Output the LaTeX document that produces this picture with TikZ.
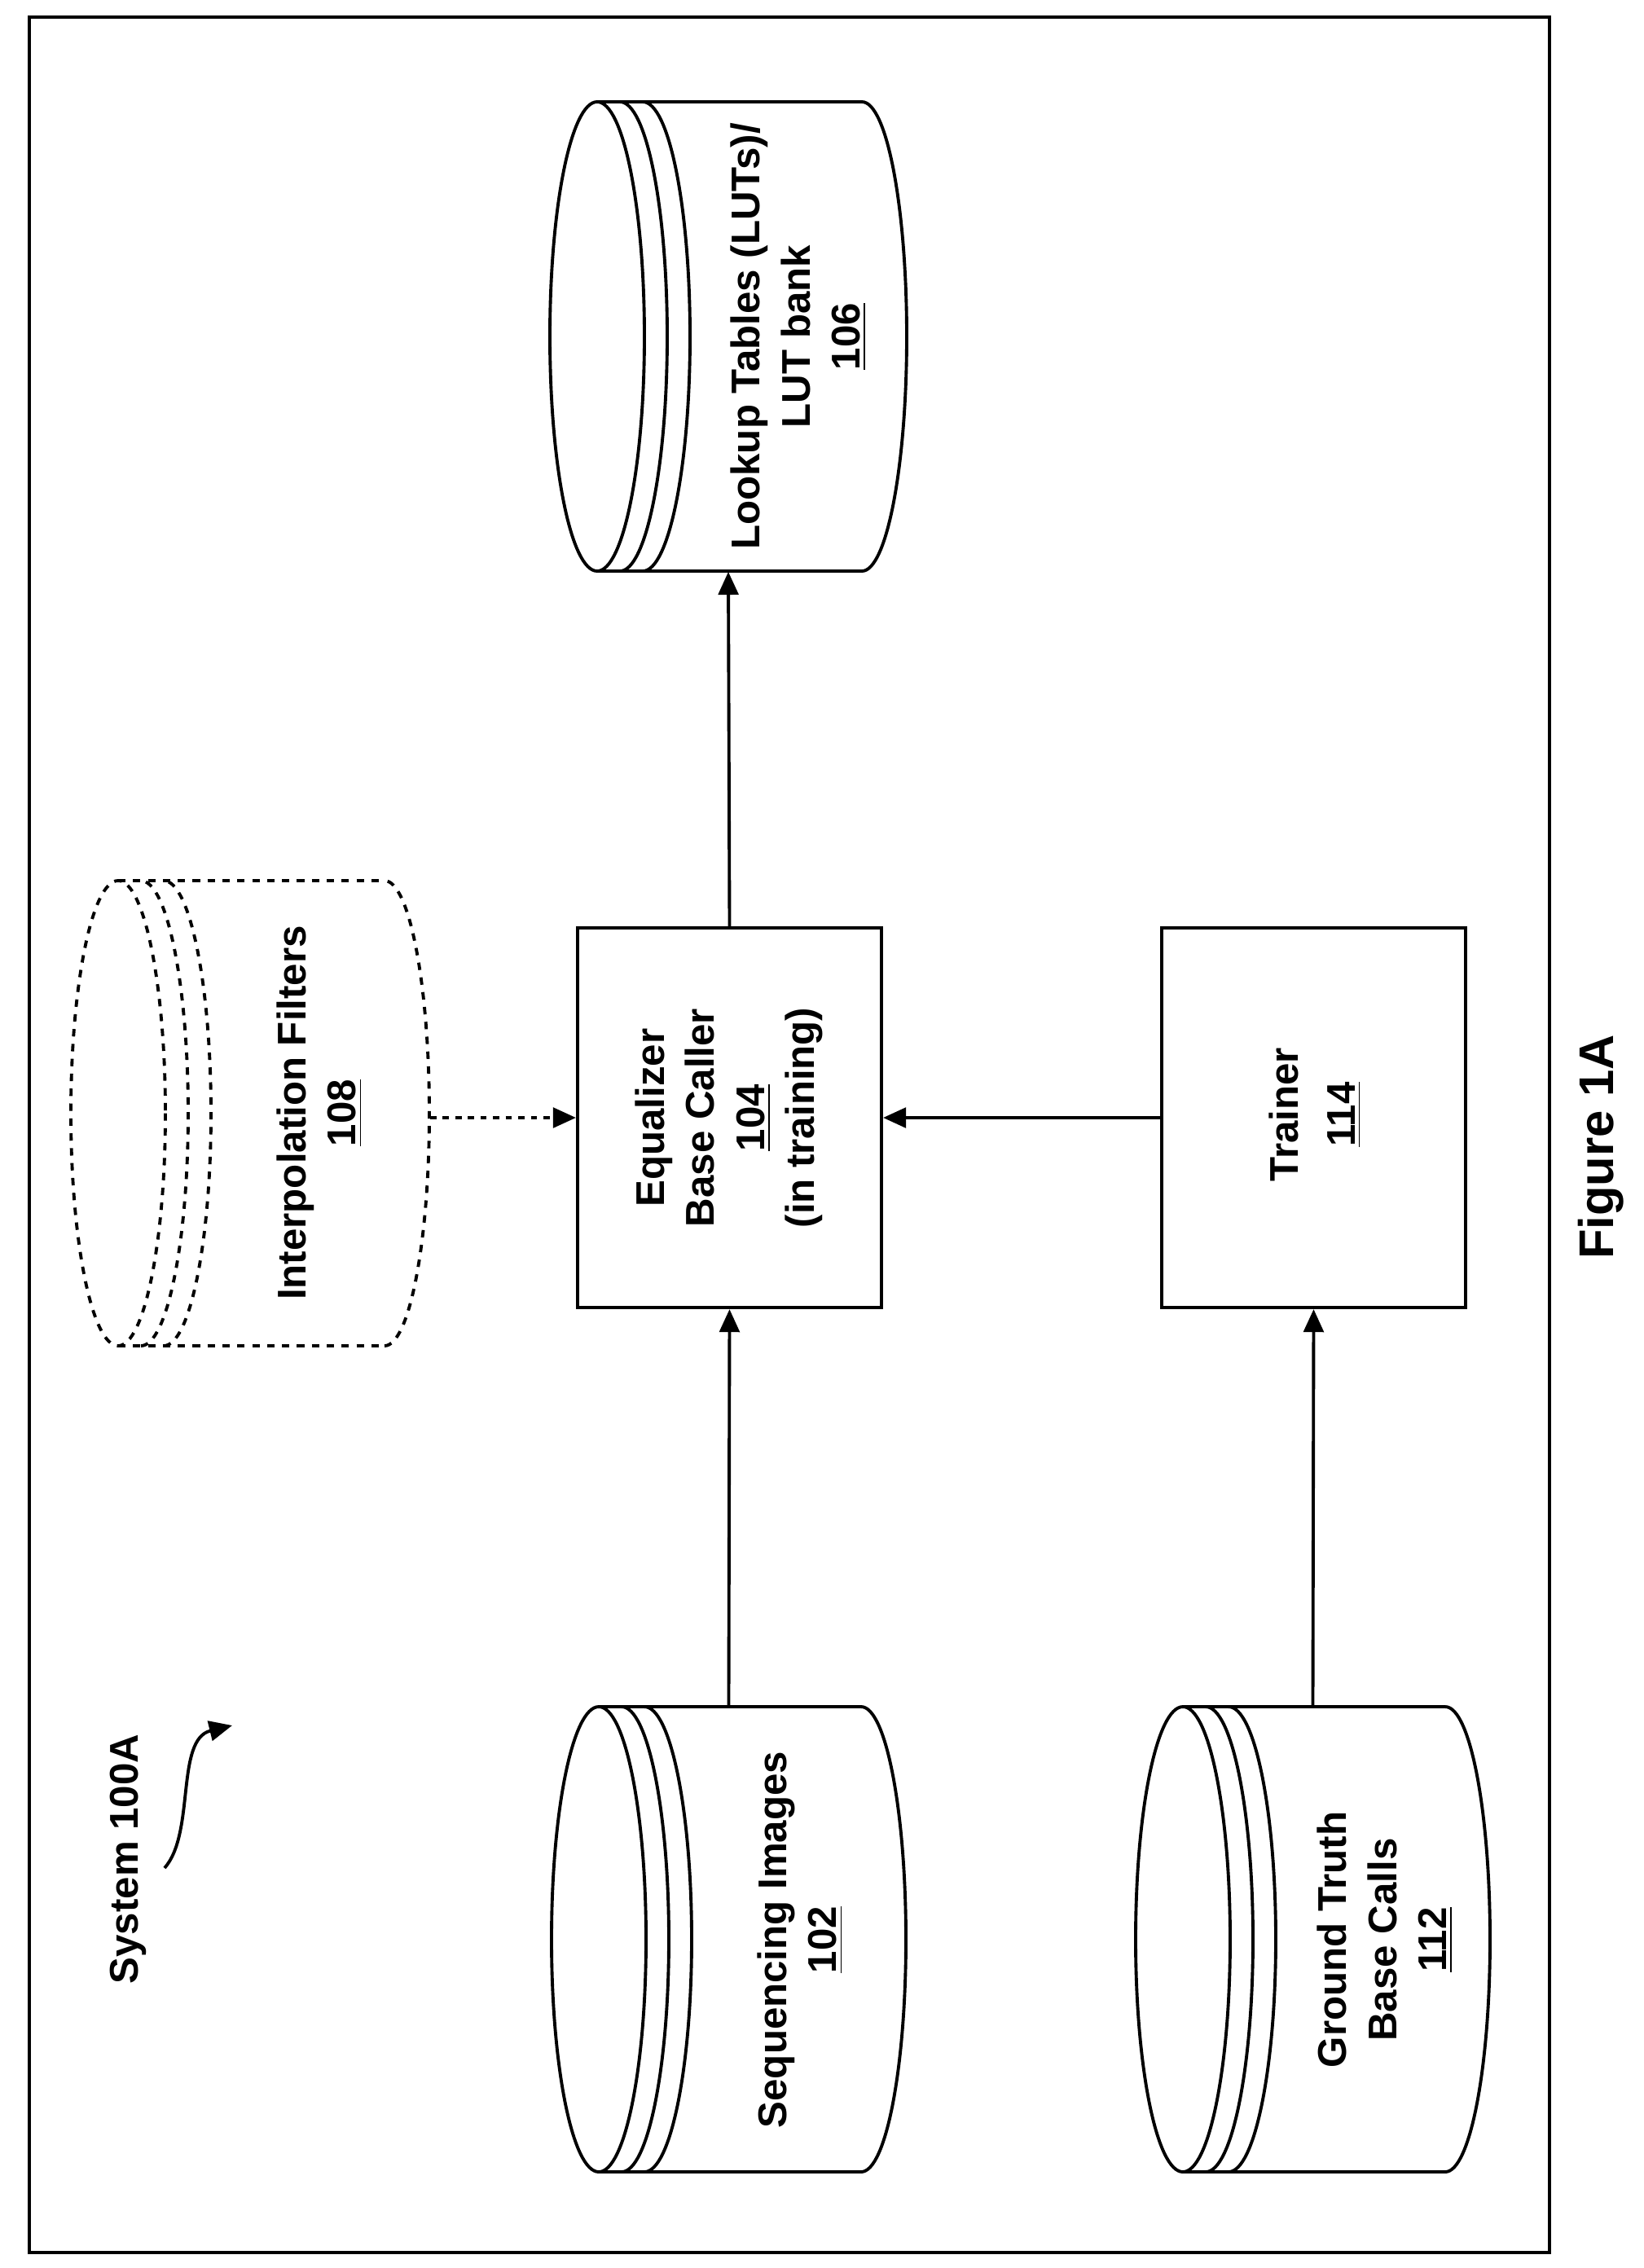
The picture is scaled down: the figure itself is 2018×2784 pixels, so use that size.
\documentclass[tikz,border=0pt]{standalone}
\usepackage{fontspec}
\setmainfont{Liberation Sans}
\usetikzlibrary{arrows.meta}
\tikzset{
  line/.style={line width=1.1pt},
  box/.style={draw, line, minimum width=3.73cm, minimum height=4.66cm, inner sep=0pt},
  disk/.style={minimum width=4.35cm, minimum height=5.71cm, inner sep=0pt},
  lbl/.style={rotate=90, align=center, font=\bfseries\fontsize{14}{17.5}\selectfont},
  arr/.style={line, -{Triangle[length=8pt,width=7pt]}},
  faint/.style={line, dash pattern=on 2.6pt off 2.6pt}
}
% stacked disk lying on its side: left x, right x, top y, bottom y
\newcommand{\stackdisk}[5][]{%
  \pgfmathsetmacro\cyc{(#4+#5)/2}\pgfmathsetmacro\cyr{(#5-#4)/2}
  \draw[line,#1] ({#2+58},\cyc) ellipse[x radius=58, y radius=\cyr];
  \foreach \o in {28,56}
    \draw[line,#1] ({#2+58+\o},#5) arc[start angle=90, end angle=-90, x radius=58, y radius=\cyr];
  \draw[line,#1] ({#2+58},#4) -- ({#3-55},#4);
  \draw[line,#1] ({#2+58},#5) -- ({#3-55},#5);
  \draw[line,#1] ({#3-55},#5) arc[start angle=90, end angle=-90, x radius=55, y radius=\cyr];
}
\begin{document}
\begin{tikzpicture}[x=0.01cm, y=-0.01cm]
  \useasboundingbox (0,0) rectangle (2018,2784);
  % frame
  \draw[line] (36,21) rectangle (1902,2765);

  % stores
  \node[disk] (seq) at (894.5,2380.5) {};
  \stackdisk{677}{1112}{2095}{2666}
  \node[lbl] (seqtxt) at (982,2381) {Sequencing Images\\\underline{102}};

  \node[disk] (gt) at (1611.5,2380.5) {};
  \stackdisk{1394}{1829}{2095}{2666}
  \node[lbl] (gttxt) at (1700,2381) {Ground Truth\\Base Calls\\\underline{112}};

  \node[disk, minimum width=4.38cm, minimum height=5.76cm] (lut) at (894,413) {};
  \stackdisk{675}{1113}{125}{701}
  \node[lbl] (luttxt) at (980,413) {Lookup Tables (LUTs)/\\LUT bank\\\underline{106}};

  \node[disk, minimum width=4.4cm] (interp) at (307,1366.5) {};
  \stackdisk[faint]{87}{527}{1081}{1652}
  \node[lbl] (interptxt) at (392,1366) {Interpolation Filters\\\underline{108}};

  % blocks
  \node[box] (eq) at (895.5,1372) {};
  \node[lbl] (eqtxt) at (895,1372) {Equalizer\\Base Caller\\\underline{104}\\(in training)};
  \node[box] (trainer) at (1612.5,1372) {};
  \node[lbl, font=\bfseries\fontsize{14}{20}\selectfont] (trainertxt) at (1614,1368) {Trainer\\\underline{114}};

  % connectors
  \draw[arr] (seq.north) -- (eq.south);
  \draw[arr] (eq.north) -- (lut.south);
  \draw[arr] (gt.north) -- (trainer.south);
  \draw[arr] (trainer.west) -- (eq.east);
  \draw[arr, dash pattern=on 2.2pt off 2.2pt] (interp.east |- eq.west) -- (eq.west);

  % labels
  \node[lbl] (sys) at (157,2282) {System 100A};
  \coordinate (systip) at (285,2118);
  \draw[line, -{Triangle[length=8pt,width=7pt]}] (202,2293) .. controls (240,2250) and (215,2135) .. (systip);
  \node[lbl, font=\bfseries\fontsize{17}{20}\selectfont] (fig) at (1965,1408) {Figure 1A};
\end{tikzpicture}
\end{document}
